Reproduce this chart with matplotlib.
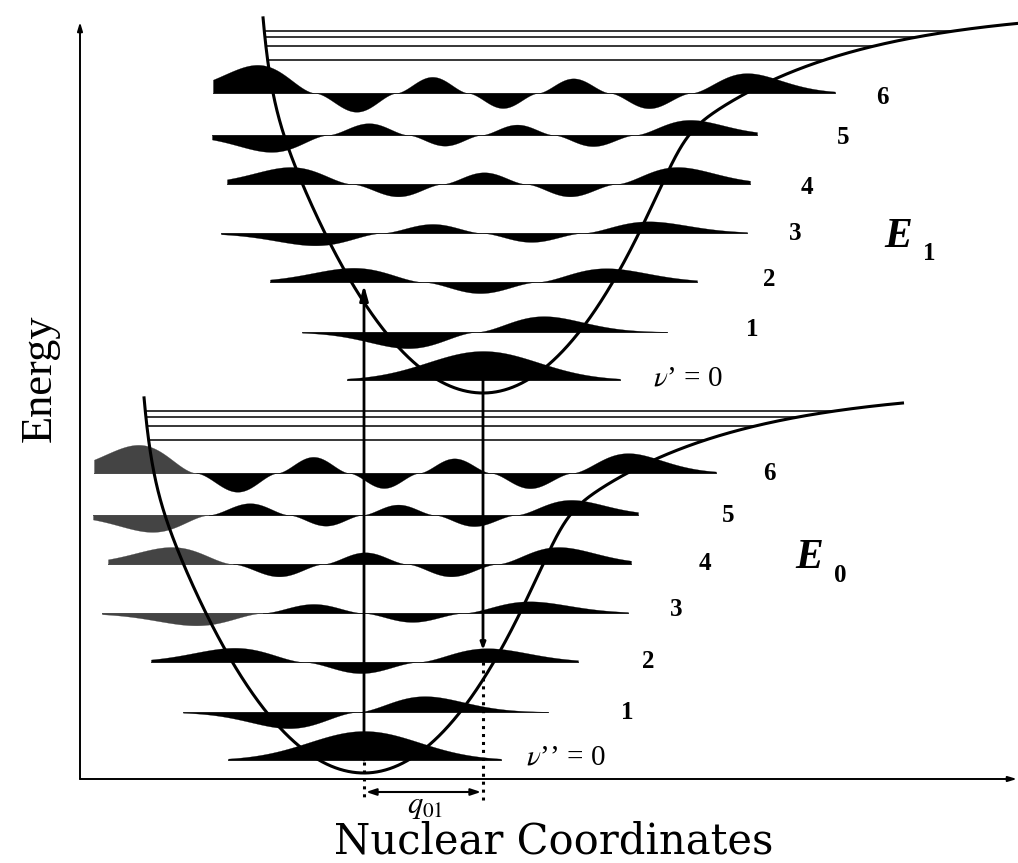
import numpy as np
import matplotlib
matplotlib.use("Agg")
import matplotlib.pyplot as plt
from numpy.polynomial.hermite import hermval

plt.rcParams["mathtext.fontset"] = "stix"

# ---------------- data (pixel-like units) ----------------
vib_quanta = [0, 1, 2, 3, 4, 5, 6]
level_energy = [13, 61, 111, 160, 209, 258, 300]        # height of each level above the well minimum
wf_center = [0, -7, -3, -1, 1, -2, 20]                  # centre of each wavefunction relative to the minimum
wf_width = [72, 68, 80, 82, 80, 76, 80]                 # length scale of each wavefunction
wf_amp = [29, 16, 14, 12, 17, 16, 24]                   # height of the largest lobe
wf_tilt = [0.0, 0.03, 0.03, 0.04, 0.0, 0.06, 0.17]      # left/right lobe imbalance
wf_left = [-136, -181, -213, -262, -256, -271, -270]    # left end of each level line
wf_right = [137, 184, 214, 264, 267, 274, 352]          # right end of each level line
dissoc_energy = [333, 347, 356, 362]                    # levels crowding below dissociation

# potential-curve parameters (same shape for both electronic states)
k_left = 0.0064      # curvature of the inner (left) wall near the minimum
k_right = 0.0066     # curvature of the outer (right) wall near the minimum
D_diss = 385.0       # dissociation asymptote
C_tail = 447.0
a_tail = 0.0063
B_wall = 4.9
b_wall = 0.13
beta_soft = 0.06
E_top = 377.0
u_end = 540.0

# electronic states: minimum position (x, y)
states = ["E1", "E0"]
state_min_x = [403, 284]
state_min_y = [386, 6]
state_label = ["1", "0"]
grey_lobe_levels = [[], [3, 4, 5, 6]]   # lower state: leftmost lobes look grey (halftone)

# ---------------- helpers ----------------
def potential(u):
    u = np.asarray(u, dtype=float)
    left = k_left * u ** 2 + B_wall * np.exp(-b_wall * (u + 200.0))
    P = k_right * u ** 2
    T = D_diss - C_tail * np.exp(-a_tail * u)
    m = np.minimum(P, T)
    soft = m - np.log(np.exp(-beta_soft * (P - m)) + np.exp(-beta_soft * (T - m))) / beta_soft
    right = np.where(u < 100, P, soft)
    return np.where(u < 0, left, right)

u_grid = np.linspace(-235, u_end, 8000)
E_grid = potential(u_grid)
keep = E_grid <= E_top
u_curve = u_grid[keep]
E_curve = E_grid[keep]
ul = u_curve[u_curve < 0]
El = E_curve[u_curve < 0]
ur = u_curve[u_curve >= 0]
Er = E_curve[u_curve >= 0]

def wavefunction(v, u, c, s, tilt):
    xi = (u - c) / s
    coeff = np.zeros(v + 1)
    coeff[v] = 1.0
    psi = hermval(xi, coeff) * np.exp(-xi ** 2 / 2)
    f = np.sign(psi) * np.abs(psi) ** 1.7
    f = f / np.abs(f).max()
    return f * (1 - tilt * xi / 3.0)

# ---------------- figure ----------------
fig = plt.figure(figsize=(10.18, 8.63), dpi=100)
ax = fig.add_axes([0, 0, 1, 1])
ax.set_xlim(-80, 938)
ax.set_ylim(-84, 779)
ax.axis("off")

for si, st in enumerate(states):
    x0 = state_min_x[si]
    y0 = state_min_y[si]
    for i, v in enumerate(vib_quanta):
        yb = y0 + level_energy[i]
        u = np.linspace(wf_left[i], wf_right[i], 1500)
        f = wavefunction(v, u, wf_center[i], wf_width[i], wf_tilt[i])
        yf = yb + wf_amp[i] * f
        ax.plot([x0 + wf_left[i], x0 + wf_right[i]], [yb, yb], color="#555555", lw=0.7, zorder=2)
        if v in grey_lobe_levels[si]:
            s0 = np.sign(f[np.argmax(np.abs(f) > 1e-3)])
            first_node = np.argmax(np.sign(f) == -s0)
            grey = np.arange(u.size) < first_node
            ax.fill_between(x0 + u, yb, yf, where=grey, color="#444444",
                            lw=0.2, zorder=3, interpolate=True)
            ax.fill_between(x0 + u, yb, yf, where=~grey, color="black",
                            lw=0.2, zorder=3, interpolate=True)
        else:
            ax.fill_between(x0 + u, yb, yf, color="black", lw=0.2, zorder=3)
    # dissociation lines
    for Ed in dissoc_energy:
        uL = np.interp(Ed, El[::-1], ul[::-1])
        uR = np.interp(Ed, Er, ur)
        ax.plot([x0 + uL, x0 + uR], [y0 + Ed, y0 + Ed], color="black", lw=1.1, zorder=2)
    ax.plot(x0 + u_curve, y0 + E_curve, color="black", lw=2.2, zorder=4,
            solid_capstyle="butt")

# axes arrows
ax.annotate("", xy=(0, 757), xytext=(0, 0),
            arrowprops=dict(arrowstyle="-|>,head_length=0.5,head_width=0.15", lw=1.4,
                            color="black", shrinkA=0, shrinkB=0))
ax.annotate("", xy=(937, 0), xytext=(0, 0),
            arrowprops=dict(arrowstyle="-|>,head_length=0.5,head_width=0.15", lw=1.4,
                            color="black", shrinkA=0, shrinkB=0))

# transitions
xa = state_min_x[1]
xe = state_min_x[0]
ax.annotate("", xy=(xa, state_min_y[0] + level_energy[2] - 3), xytext=(xa, state_min_y[1] + level_energy[0]),
            arrowprops=dict(arrowstyle="-|>,head_length=0.9,head_width=0.25", lw=2.0,
                            color="black", shrinkA=0, shrinkB=0), zorder=5)
ax.annotate("", xy=(xe, 129), xytext=(xe, state_min_y[0] + level_energy[0]),
            arrowprops=dict(arrowstyle="-|>,head_length=0.4,head_width=0.15", lw=2.0,
                            color="black", shrinkA=0, shrinkB=0), zorder=5)
# dotted guides
ax.plot([xa, xa], [state_min_y[1] + level_energy[0] - 2, -21], color="black", lw=2.2,
        ls=(0, (1, 1.6)), zorder=5)
ax.plot([xe, xe], [117, -21], color="black", lw=2.2, ls=(0, (1, 1.6)), zorder=5)
ax.annotate("", xy=(xe - 2, -13), xytext=(xa + 2, -13),
            arrowprops=dict(arrowstyle="<|-|>,head_length=0.6,head_width=0.2", lw=1.5,
                            color="black", shrinkA=0, shrinkB=0))
ax.text((xa + xe) / 2 + 2, -27, r"$q_{01}$", fontsize=22, ha="center", va="center")

# level labels (positions in figure layout)
upper_lab_pos = [(573, 400), (672, 449), (689, 499), (715, 546), (727, 592), (763, 642), (802, 682)]
lower_lab_pos = [(446, 22), (547, 67), (568, 117), (596, 169), (625, 216), (648, 263), (689, 306)]
lab_font = dict(family="Liberation Serif", fontsize=18, weight="bold", va="center")
for pos_list, prime in ((upper_lab_pos, "\u2019"), (lower_lab_pos, "\u2019\u2019")):
    for i, v in enumerate(vib_quanta):
        if v == 0:
            ax.text(pos_list[i][0], pos_list[i][1], r"$\nu$" + prime + " = 0", ha="left",
                    family="Liberation Serif", fontsize=21, va="center")
        else:
            ax.text(pos_list[i][0], pos_list[i][1], str(v), ha="center", **lab_font)

# state labels
E_pos = [(818, 542), (729, 221)]
for si in range(2):
    ex, ey = E_pos[si]
    ax.text(ex, ey, "E", family="Liberation Serif", fontsize=30, weight="bold", style="italic",
            ha="center", va="center")
    ax.text(ex + 31, ey - 17, state_label[si], family="Liberation Serif", fontsize=18,
            weight="bold", ha="center", va="center")

# axis titles
ax.text(-40, 401, "Energy", family="Liberation Serif", fontsize=32, rotation=90,
        ha="center", va="center")
ax.text(474, -62, "Nuclear Coordinates", family="DejaVu Serif", fontsize=30,
        ha="center", va="center")

fig.savefig("out.png", dpi=100, facecolor="white")
